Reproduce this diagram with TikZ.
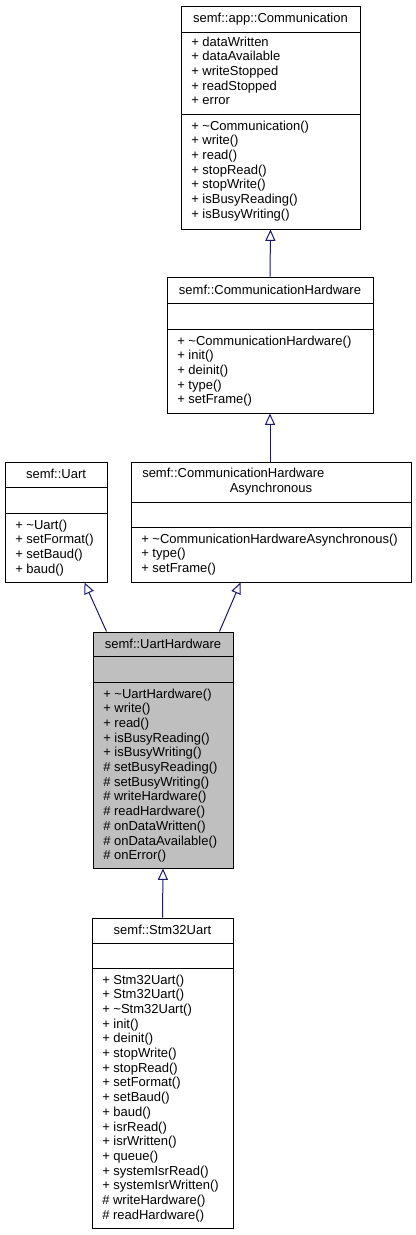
\documentclass[tikz,border=0pt]{standalone}
\usepackage{fontspec}
\setmainfont{Liberation Sans}
\usetikzlibrary{arrows.meta}
\usetikzlibrary{fit}

\definecolor{edgeblue}{HTML}{191970}
\definecolor{boxgray}{HTML}{BFBFBF}

\begin{document}
\begin{tikzpicture}[x=0.75pt, y=-0.75pt,
  box/.style={draw=black, line width=0.75pt, inner sep=0pt},
  sep/.style={draw=black, line width=0.75pt},
  title/.style={anchor=base, inner sep=0pt, font=\fontsize{9.75pt}{11pt}\selectfont},
  member/.style={anchor=base west, inner sep=0pt, font=\fontsize{9.75pt}{11pt}\selectfont},
  inherit/.style={draw=edgeblue, line width=0.75pt, -{Triangle[open, length=8.5pt, width=7.5pt]}}]

\useasboundingbox (0,0) rectangle (416,1235);

% semf::app::Communication
\node[box, fit={(181,6) (360,229)}] (comm) {};
\draw[sep] (181,32) -- (360,32); \draw[sep] (181,114) -- (360,114);
\node[title] (comm-t) at (270.5,22) {semf::app::Communication};
\foreach \m [count=\i from 0] in {+ dataWritten, + dataAvailable, + writeStopped, + readStopped, + error}
  \node[member] (comm-a\i) at (191,{46+\i*14.7}) {\m};
\foreach \m [count=\i from 0] in {+ \textasciitilde Communication(), + write(), + read(), + stopRead(), + stopWrite(), + isBusyReading(), + isBusyWriting()}
  \node[member] (comm-m\i) at (191,{130+\i*14.7}) {\m};

% semf::CommunicationHardware
\node[box, fit={(167,277) (373,413)}] (ch) {};
\draw[sep] (167,303) -- (373,303); \draw[sep] (167,329) -- (373,329);
\node[title] (ch-t) at (270,294) {semf::CommunicationHardware};
\foreach \m [count=\i from 0] in {+ \textasciitilde CommunicationHardware(), + init(), + deinit(), + type(), + setFrame()}
  \node[member] (ch-m\i) at (177,{345+\i*14.7}) {\m};

% semf::Uart
\node[box, fit={(5,462) (107,582)}] (uart) {};
\draw[sep] (5,487) -- (107,487); \draw[sep] (5,513) -- (107,513);
\node[title] (uart-t) at (56,478) {semf::Uart};
\foreach \m [count=\i from 0] in {+ \textasciitilde Uart(), + setFormat(), + setBaud(), + baud()}
  \node[member] (uart-m\i) at (15,{529+\i*14.7}) {\m};

% semf::CommunicationHardwareAsynchronous
\node[box, fit={(131,462) (411,582)}] (cha) {};
\draw[sep] (131,502) -- (411,502); \draw[sep] (131,527) -- (411,527);
\node[member] (cha-t1) at (142,477.5) {semf::CommunicationHardware};
\node[title] (cha-t2) at (271,492.5) {Asynchronous};
\foreach \m [count=\i from 0] in {+ \textasciitilde CommunicationHardwareAsynchronous(), + type(), + setFrame()}
  \node[member] (cha-m\i) at (141,{543+\i*14.7}) {\m};

% semf::UartHardware
\node[box, fill=boxgray, fit={(93,632) (233,868)}] (uarthw) {};
\draw[sep] (93,656) -- (233,656); \draw[sep] (93,682) -- (233,682);
\node[title] (uarthw-t) at (163,648) {semf::UartHardware};
\foreach \m [count=\i from 0] in {+ \textasciitilde UartHardware(), + write(), + read(), + isBusyReading(), + isBusyWriting(), \# setBusyReading(), \# setBusyWriting(), \# writeHardware(), \# readHardware(), \# onDataWritten(), \# onDataAvailable(), \# onError()}
  \node[member] (uarthw-m\i) at (103,{698+\i*14.7}) {\m};

% semf::Stm32Uart
\node[box, fit={(92,918) (233,1228)}] (stm) {};
\draw[sep] (92,943) -- (233,943); \draw[sep] (92,968) -- (233,968);
\node[title] (stm-t) at (162.5,934) {semf::Stm32Uart};
\foreach \m [count=\i from 0] in {+ Stm32Uart(), + Stm32Uart(), + \textasciitilde Stm32Uart(), + init(), + deinit(), + stopWrite(), + stopRead(), + setFormat(), + setBaud(), + baud(), + isrRead(), + isrWritten(), + queue(), + systemIsrRead(), + systemIsrWritten(), \# writeHardware(), \# readHardware()}
  \node[member] (stm-m\i) at (102,{984+\i*14.7}) {\m};

% inheritance
\draw[inherit] (ch.north) -- (comm.south);
\draw[inherit] (ch.south |- cha.north) -- (ch.south);
\draw[inherit] ([xshift=10.5pt]uarthw.north west) -- ([xshift=60pt]uart.south west);
\draw[inherit] ([xshift=-10.5pt]uarthw.north east) -- ([xshift=82.5pt]cha.south west);
\draw[inherit] (stm.north) -- (uarthw.south);

\end{tikzpicture}
\end{document}
